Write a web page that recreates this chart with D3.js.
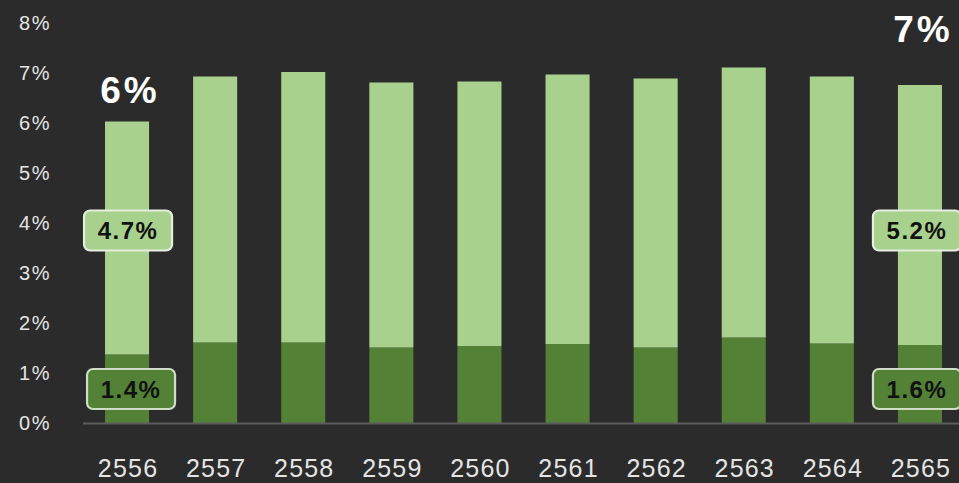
<!DOCTYPE html>
<html>
<head>
<meta charset="utf-8">
<script src="https://cdn.jsdelivr.net/npm/d3@7"></script>
<style>
  html, body { margin: 0; padding: 0; background: #2b2b2b; }
  svg { display: block; }
  text { font-family: "Liberation Sans", Arial, Helvetica, sans-serif; }
</style>
</head>
<body>
<svg id="chart" width="959" height="483"></svg>
<script>
const years = ["2556","2557","2558","2559","2560","2561","2562","2563","2564","2565"];
const darkValues  = [1.37, 1.61, 1.61, 1.51, 1.54, 1.58, 1.51, 1.71, 1.59, 1.56];
const lightValues = [4.66, 5.32, 5.41, 5.30, 5.29, 5.39, 5.38, 5.40, 5.34, 5.20];
const yTicks = [0, 1, 2, 3, 4, 5, 6, 7, 8];
const totalLabels = [{year: "2556", text: "6%"}, {year: "2565", text: "7%"}];
const lightLabels = [{year: "2556", text: "4.7%"}, {year: "2565", text: "5.2%"}];
const darkLabels  = [{year: "2556", text: "1.4%"}, {year: "2565", text: "1.6%"}];

const W = 959, H = 483;
const svg = d3.select("#chart");
svg.append("rect").attr("width", W).attr("height", H).attr("fill", "#2b2b2b");

const x = d3.scaleBand().domain(years).range([83, 964]).paddingInner(0.5).paddingOuter(0.25);
const y = d3.scaleLinear().domain([0, 8]).range([423, 23]);

const DARK = "#538135", LIGHT = "#a9d18e";

// y tick labels
svg.append("g").selectAll("text").data(yTicks).join("text")
  .attr("x", 51).attr("y", d => y(d))
  .attr("text-anchor", "end").attr("dy", "0.36em")
  .attr("font-size", 20).attr("letter-spacing", 1.5)
  .attr("fill", "#e4e4e4")
  .text(d => d + "%");

const rows = years.map((yr, i) => ({year: yr, dark: darkValues[i], light: lightValues[i]}));

// bars
const bars = svg.append("g");
bars.selectAll("rect.dark").data(rows).join("rect").attr("class", "dark")
  .attr("x", d => x(d.year)).attr("width", x.bandwidth())
  .attr("y", d => y(d.dark)).attr("height", d => y(0) - y(d.dark))
  .attr("fill", DARK);
bars.selectAll("rect.light").data(rows).join("rect").attr("class", "light")
  .attr("x", d => x(d.year)).attr("width", x.bandwidth())
  .attr("y", d => y(d.dark + d.light)).attr("height", d => y(d.dark) - y(d.dark + d.light))
  .attr("fill", LIGHT);

// baseline axis
svg.append("line").attr("x1", x.range()[0]).attr("x2", W)
  .attr("y1", y(0) + 0.5).attr("y2", y(0) + 0.5)
  .attr("stroke", "#5c5c5c").attr("stroke-width", 2);

// x labels
svg.append("g").selectAll("text").data(years).join("text")
  .attr("x", d => x(d) + x.bandwidth() / 2 + 1).attr("y", 477)
  .attr("text-anchor", "middle").attr("font-size", 25).attr("letter-spacing", 1.2)
  .attr("fill", "#e4e4e4")
  .text(d => d);

// big total labels
const rowOf = yr => rows.find(r => r.year === yr);
svg.append("g").selectAll("text").data(totalLabels).join("text")
  .attr("x", d => x(d.year) + x.bandwidth() / 2 + 3)
  .attr("y", (d, i) => i === 0 ? y(rowOf(d.year).dark + rowOf(d.year).light) - 19 : y(8) + 19)
  .attr("text-anchor", "middle").attr("font-size", 37).attr("font-weight", "bold")
  .attr("letter-spacing", 3).attr("fill", "#ffffff")
  .text(d => d.text);

// callout boxes
function callouts(data, level, fill, stroke, dxs) {
  const g = svg.append("g").selectAll("g").data(data).join("g")
    .attr("transform", (d, i) => `translate(${x(d.year) + x.bandwidth() / 2 + dxs[i]},${y(level)})`);
  g.append("rect").attr("x", -44).attr("y", -20).attr("width", 88).attr("height", 40)
    .attr("rx", 6).attr("fill", fill).attr("stroke", stroke).attr("stroke-width", 2.2);
  g.append("text").attr("text-anchor", "middle").attr("dy", "0.36em")
    .attr("font-size", 24).attr("font-weight", "bold").attr("letter-spacing", 1.5)
    .attr("fill", "#111").text(d => d.text);
}
callouts(lightLabels, 3.85, LIGHT, "#e6eee0", [1, -3]);
callouts(darkLabels, 0.68, DARK, "#cfdcc6", [4, -3]);
</script>
</body>
</html>
